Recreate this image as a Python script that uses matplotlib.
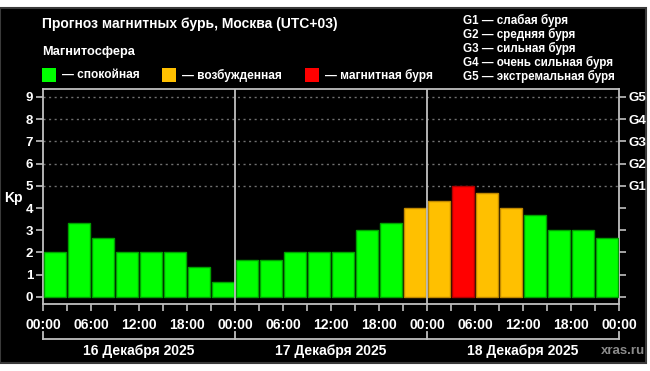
import matplotlib.pyplot as plt
from matplotlib.patches import Rectangle
from matplotlib.lines import Line2D

plt.rcParams.update({"font.family": ["Liberation Sans", "DejaVu Sans"], "font.weight": "bold"})

# Kp forecast, 3-hour intervals, 16-18 Dec 2025
kp_16 = [2.0, 3.33, 2.67, 2.0, 2.0, 2.0, 1.33, 0.67]
kp_17 = [1.67, 1.67, 2.0, 2.0, 2.0, 3.0, 3.33, 4.0]
kp_18 = [4.33, 5.0, 4.67, 4.0, 3.67, 3.0, 3.0, 2.67]
days = ["16 Декабря 2025", "17 Декабря 2025", "18 Декабря 2025"]
hour_labels = ["00:00", "06:00", "12:00", "18:00"]
g_labels = ["G1", "G2", "G3", "G4", "G5"]
g_legend = ["G1 — слабая буря", "G2 — средняя буря", "G3 — сильная буря",
            "G4 — очень сильная буря", "G5 — экстремальная буря"]

GREEN, ORANGE, RED = "#00ff00", "#ffc000", "#ff0000"
EDGE = {GREEN: "#00a000", ORANGE: "#c08800", RED: "#b00000"}
GRAY = "#c0c0c0"


def kp_color(v):
    if v >= 5:
        return RED
    if v >= 4:
        return ORANGE
    return GREEN


W, H = 650, 371
fig = plt.figure(figsize=(6.5, 3.71), dpi=100, facecolor="white")
fig.patches.append(Rectangle((0, 8 / H), 646 / W, 1 - 16 / H, transform=fig.transFigure,
                             facecolor="black", edgecolor="#3a3a3a", linewidth=1.5, zorder=-10))

ax = fig.add_axes([43 / W, 1 - 304 / H, (619 - 43) / W, (304 - 89) / H])
ax.set_facecolor("black")

kp = kp_16 + kp_17 + kp_18
xs = [3 * i + 1.5 for i in range(len(kp))]
cols = [kp_color(v) for v in kp]
ax.bar(xs, kp, width=2.65, color=cols, edgecolor=[EDGE[c] for c in cols], linewidth=1, zorder=3)

ax.set_xlim(0, 72)
ax.set_ylim(-0.32, 9.36)
for y in range(5, 10):
    ax.axhline(y, color="#707070", linestyle=(0, (1.5, 2.5)), linewidth=1, zorder=1)
for x in (24, 48):
    ax.axvline(x, color=GRAY, linewidth=1.3, zorder=4)

for s in ax.spines.values():
    s.set_color(GRAY)
    s.set_linewidth(1.3)

ax.set_xticks(range(0, 73, 3), minor=True)
ax.set_xticks(range(0, 73, 6))
ax.set_xticklabels(hour_labels * 3 + ["00:00"])
ax.tick_params(axis="x", which="both", colors=GRAY, length=5, width=1.2, labelcolor="white",
               labelsize=10, pad=5)
ax.set_yticks(range(10))
ax.tick_params(axis="y", colors=GRAY, length=5, width=1.2, labelcolor="white", labelsize=9.5, pad=2)

ax2 = ax.twinx()
ax2.set_ylim(ax.get_ylim())
ax2.set_yticks(range(10))
ax2.set_yticklabels([""] * 5 + g_labels)
ax2.tick_params(axis="y", colors=GRAY, length=5, width=1.2, labelcolor="white", labelsize=9.5, pad=2)
for s in ax2.spines.values():
    s.set_visible(False)


def px(x, y):
    return x / W, 1 - y / H


# day brackets under the axis
x0, x1 = 43, 619
xd = [x0 + (x1 - x0) * k / 3 for k in range(4)]
fig.add_artist(Line2D([x0 / W, x1 / W], [1 - 339 / H] * 2, color=GRAY, linewidth=1.3))
for x in xd:
    fig.add_artist(Line2D([x / W] * 2, [1 - 332 / H, 1 - 339 / H], color=GRAY, linewidth=1.3))
for k, d in enumerate(days):
    fig.text(*px((xd[k] + xd[k + 1]) / 2, 351), d, color="white", fontsize=10,
             ha="center", va="center")

fig.text(*px(645, 351), "xras.ru", color="#8a8a8a", fontsize=9.5, ha="right", va="center")

fig.text(*px(42, 24), "Прогноз магнитных бурь, Москва (UTC+03)", color="white",
         fontsize=10, ha="left", va="center")
fig.text(*px(42, 52), "Магнитосфера", color="white", fontsize=9.2, ha="left", va="center")
for sx, c, lab in [(42, GREEN, "— спокойная"), (162, ORANGE, "— возбужденная"),
                   (305, RED, "— магнитная буря")]:
    fig.patches.append(Rectangle(px(sx, 82), 14 / W, 14 / H, transform=fig.transFigure,
                                 facecolor=c, edgecolor="none"))
    fig.text(*px(sx + 20, 75), lab, color="white", fontsize=8.6, ha="left", va="center")

for k, t in enumerate(g_legend):
    fig.text(*px(463, 20 + 14.2 * k), t, color="white", fontsize=8.4, ha="left", va="center")

fig.text(*px(13, 198), "Kp", color="white", fontsize=10, ha="center", va="center")

fig.savefig("out.png", dpi=100, facecolor="white")
